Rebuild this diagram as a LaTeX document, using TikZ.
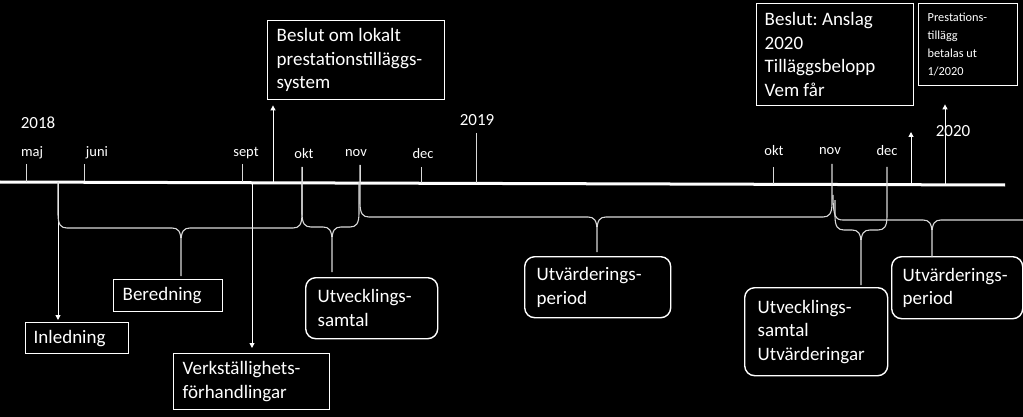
\documentclass[tikz,border=0pt]{standalone}
\usepackage{fontspec}
\setmainfont{Carlito}
\frenchspacing
\usetikzlibrary{arrows.meta,calc}
\newcommand\bracepath[7]{%
  (#1,#2) -- (#1,#5-14) .. controls (#1,#5-3) and (#1+3,#5) .. (#1+9,#5)
  -- (#6-9,#5) .. controls (#6-3,#5) and (#6,#5+3) .. (#6,#5+14) -- (#6,#7)
  (#6,#5+14) .. controls (#6,#5+3) and (#6+3,#5) .. (#6+9,#5)
  -- (#3-9,#5) .. controls (#3-3,#5) and (#3,#5-3) .. (#3,#5-14) -- (#3,#4)}
\begin{document}
\begin{tikzpicture}[x=1pt,y=-1pt,
  bigtxt/.style={font=\fontsize{19}{23.5}\selectfont\frenchspacing},
  boxsq/.style={draw=white,line width=1.4pt,text=white,anchor=north west,align=flush left,bigtxt},
  boxrd/.style={boxsq,rounded corners=10pt},
  month/.style={text=white,font=\fontsize{14.5}{17}\selectfont,inner sep=0pt},
  year/.style={text=white,font=\fontsize{17}{20}\selectfont,inner sep=0pt},
  tick/.style={draw=white!85!black,line width=1pt},
  brace/.style={draw=white!85!black,line width=1.1pt},
  arr/.style={draw=white,line width=1pt,-{Triangle[width=5pt,length=5pt]}}]
\useasboundingbox (0,0) rectangle (1023,417);
\fill[black] (0,0) rectangle (1023,417);

% main time line
\coordinate (L0) at (0,182);
\coordinate (L1) at (1005,185);
\draw[white,line width=3pt] (L0) -- (L1);

% month and year labels
\node[year]  (y2018) at (38,123) {2018};
\node[year]  (y2019) at (477,120) {2019};
\node[year]  (y2020) at (953,131) {2020};
\node[month] (mmaj)  at (32,153) {maj};
\node[month] (mjuni) at (97,153) {juni};
\node[month] (msept) at (246,153) {sept};
\node[month] (mokt)  at (304,154) {okt};
\node[month] (mnov)  at (356,153) {nov};
\node[month] (mdec)  at (423,154) {dec};
\node[month] (mokt2) at (774,151) {okt};
\node[month] (mnov2) at (830,151) {nov};
\node[month] (mdec2) at (887,151) {dec};

% ticks
\draw[tick] (26,164) -- (26,182);
\draw[tick] (84,164) -- (84,181);
\draw[tick] (242,164) -- (242,182);
\draw[tick] (302,167) -- (302,182);
\draw[tick] (360,165) -- (360,182);
\draw[tick] (421,167) -- (421,183);
\draw[tick] (476,133) -- (476,183);
\draw[tick] (773,167) -- (773,184);

% boxes
\node[boxsq,minimum width=177pt,minimum height=79pt,text width=159pt,inner xsep=9pt] (beslut1) at (267,20)
  {Beslut om lokalt\\prestationstilläggs-\\system};
\node[boxsq,minimum width=157pt,minimum height=102pt,text width=141pt,inner xsep=8pt] (beslut2) at (756,3)
  {Beslut: Anslag\\2020\\Tilläggsbelopp\\Vem får};
\node[boxsq,minimum width=99pt,minimum height=82pt,text width=81pt,inner xsep=9pt,
  font=\fontsize{12.3}{18}\selectfont] (prest) at (918,3)
  {Prestations-\\tillägg\\betalas ut\\1/2020};
\node[boxsq,minimum width=103pt,minimum height=31pt,text width=87pt,inner xsep=8pt,inner ysep=0pt] (inled) at (25,322) {Inledning};
\node[boxsq,minimum width=109pt,minimum height=32pt,text width=91pt,inner xsep=9pt,inner ysep=0pt] (bered) at (113,279) {Beredning};
\node[boxsq,minimum width=156pt,minimum height=56pt,text width=138pt,inner xsep=9pt,inner ysep=0pt] (verk) at (173,353)
  {Verkställighets-\\förhandlingar};
\node[boxrd,minimum width=132pt,minimum height=61pt,text width=108pt,inner xsep=12pt,inner ysep=0pt] (utv1) at (305,277)
  {Utvecklings-\\samtal};
\node[boxrd,minimum width=146pt,minimum height=61pt,text width=122pt,inner xsep=12pt,inner ysep=0pt] (per1) at (524,256)
  {Utvärderings-\\period};
\node[boxrd,minimum width=143pt,minimum height=88pt,text width=117pt,inner xsep=13pt,inner ysep=0pt] (utv2) at (744,287)
  {Utvecklings-\\samtal\\Utvärderingar};
\node[boxrd,minimum width=131pt,minimum height=62pt,text width=109pt,inner xsep=11pt,inner ysep=0pt] (per2) at (891,256)
  {Utvärderings-\\period};

% arrows
\coordinate (aBes) at (273,182);
\coordinate (aInl) at (58,182);
\coordinate (aVer) at (252,182);
\coordinate (aA) at (911,184);
\coordinate (aAtop) at (911,132);
\coordinate (aP) at (945,184);
\draw[arr,shorten >=5pt] (aBes) -- (beslut1.south -| aBes);
\draw[arr,shorten >=2pt] (aInl) -- (inled.north -| aInl);
\draw[arr,shorten >=5pt] (aVer) -- (verk.north -| aVer);
\draw[arr] (aA) -- (aAtop);
\draw[arr,shorten >=18pt] (aP) -- (prest.south -| aP);

% braces
\draw[brace] \bracepath{58}{182}{302}{167}{228}{181}{276};
\draw[brace] \bracepath{302}{182}{359}{182}{227}{332}{272};
\draw[brace] \bracepath{360}{165}{832}{164}{217}{597}{252};
\draw[brace] \bracepath{835}{200}{887}{167}{230}{861}{285};
\draw[brace] (833,195) .. controls (833,217) and (836,220) .. (843,220)
  -- (923,220) .. controls (929,220) and (932,223) .. (932,234) -- (932,257)
  (932,234) .. controls (932,223) and (935,220) .. (941,220) -- (1023,220);
\end{tikzpicture}
\end{document}
